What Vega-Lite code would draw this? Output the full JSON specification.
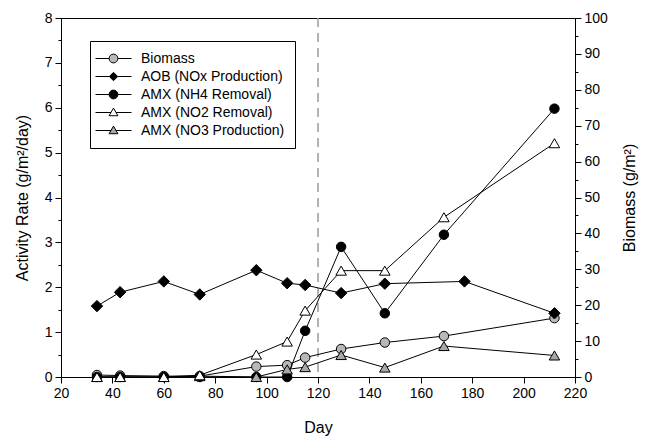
{
  "$schema": "https://vega.github.io/schema/vega-lite/v6.json",
  "width": 514,
  "height": 359,
  "autosize": {"type": "none"},
  "padding": {"left": 61, "top": 18, "right": 73, "bottom": 60},
  "background": "white",
  "config": {
    "font": "Liberation Sans",
    "view": {"stroke": "black", "strokeWidth": 1},
    "axis": {
      "grid": false,
      "domainColor": "black",
      "tickColor": "black",
      "labelColor": "black",
      "titleColor": "black",
      "labelFont": "Liberation Sans",
      "titleFont": "Liberation Sans",
      "labelFontSize": 14,
      "titleFontSize": 16,
      "titleFontWeight": "normal",
      "tickSize": 6,
      "labelPadding": 3,
      "labelFlush": false,
      "labelOverlap": false,
      "domainWidth": 1,
      "tickWidth": 1
    },
    "legend": {
      "title": null,
      "orient": "none",
      "legendX": 29,
      "legendY": 23,
      "strokeColor": "black",
      "fillColor": "white",
      "padding": 10,
      "symbolSize": 196,
      "symbolOffset": 6,
      "labelOffset": 20,
      "rowPadding": 3,
      "labelFontSize": 14,
      "labelColor": "black",
      "labelFont": "Liberation Sans",
      "symbolStrokeWidth": 1
    }
  },
  "datasets": {
    "activity": [
      {"series": "AMX (NH4 Removal)", "day": 34, "rate": 0},
      {"series": "AMX (NH4 Removal)", "day": 43, "rate": 0},
      {"series": "AMX (NH4 Removal)", "day": 60, "rate": 0},
      {"series": "AMX (NH4 Removal)", "day": 74, "rate": 0},
      {"series": "AMX (NH4 Removal)", "day": 96, "rate": 0},
      {"series": "AMX (NH4 Removal)", "day": 108, "rate": 0},
      {"series": "AMX (NH4 Removal)", "day": 115, "rate": 1.03},
      {"series": "AMX (NH4 Removal)", "day": 129, "rate": 2.9},
      {"series": "AMX (NH4 Removal)", "day": 146, "rate": 1.42},
      {"series": "AMX (NH4 Removal)", "day": 169, "rate": 3.17},
      {"series": "AMX (NH4 Removal)", "day": 212, "rate": 5.98},
      {"series": "AMX (NO3 Production)", "day": 34, "rate": 0},
      {"series": "AMX (NO3 Production)", "day": 43, "rate": 0},
      {"series": "AMX (NO3 Production)", "day": 60, "rate": 0},
      {"series": "AMX (NO3 Production)", "day": 74, "rate": 0.02},
      {"series": "AMX (NO3 Production)", "day": 96, "rate": 0},
      {"series": "AMX (NO3 Production)", "day": 108, "rate": 0.17},
      {"series": "AMX (NO3 Production)", "day": 115, "rate": 0.22},
      {"series": "AMX (NO3 Production)", "day": 129, "rate": 0.49},
      {"series": "AMX (NO3 Production)", "day": 146, "rate": 0.21},
      {"series": "AMX (NO3 Production)", "day": 169, "rate": 0.69},
      {"series": "AMX (NO3 Production)", "day": 212, "rate": 0.48},
      {"series": "AMX (NO2 Removal)", "day": 34, "rate": 0},
      {"series": "AMX (NO2 Removal)", "day": 43, "rate": 0},
      {"series": "AMX (NO2 Removal)", "day": 60, "rate": 0},
      {"series": "AMX (NO2 Removal)", "day": 74, "rate": 0.04},
      {"series": "AMX (NO2 Removal)", "day": 96, "rate": 0.5},
      {"series": "AMX (NO2 Removal)", "day": 108, "rate": 0.79},
      {"series": "AMX (NO2 Removal)", "day": 115, "rate": 1.48},
      {"series": "AMX (NO2 Removal)", "day": 129, "rate": 2.37},
      {"series": "AMX (NO2 Removal)", "day": 146, "rate": 2.37},
      {"series": "AMX (NO2 Removal)", "day": 169, "rate": 3.56},
      {"series": "AMX (NO2 Removal)", "day": 212, "rate": 5.21},
      {"series": "AOB (NOx Production)", "day": 34, "rate": 1.58},
      {"series": "AOB (NOx Production)", "day": 43, "rate": 1.89},
      {"series": "AOB (NOx Production)", "day": 60, "rate": 2.13},
      {"series": "AOB (NOx Production)", "day": 74, "rate": 1.84},
      {"series": "AOB (NOx Production)", "day": 96, "rate": 2.38},
      {"series": "AOB (NOx Production)", "day": 108, "rate": 2.09},
      {"series": "AOB (NOx Production)", "day": 115, "rate": 2.05},
      {"series": "AOB (NOx Production)", "day": 129, "rate": 1.87},
      {"series": "AOB (NOx Production)", "day": 146, "rate": 2.08},
      {"series": "AOB (NOx Production)", "day": 177, "rate": 2.13},
      {"series": "AOB (NOx Production)", "day": 212, "rate": 1.42}
    ],
    "biomass": [
      {"series": "Biomass", "day": 34, "biomass": 0.55},
      {"series": "Biomass", "day": 43, "biomass": 0.4},
      {"series": "Biomass", "day": 60, "biomass": 0.25},
      {"series": "Biomass", "day": 74, "biomass": 0.25},
      {"series": "Biomass", "day": 96, "biomass": 2.9},
      {"series": "Biomass", "day": 108, "biomass": 3.3},
      {"series": "Biomass", "day": 115, "biomass": 5.4},
      {"series": "Biomass", "day": 129, "biomass": 7.8},
      {"series": "Biomass", "day": 146, "biomass": 9.6},
      {"series": "Biomass", "day": 169, "biomass": 11.4},
      {"series": "Biomass", "day": 212, "biomass": 16.4}
    ],
    "legendItems": [
      {"series": "Biomass"},
      {"series": "AOB (NOx Production)"},
      {"series": "AMX (NH4 Removal)"},
      {"series": "AMX (NO2 Removal)"},
      {"series": "AMX (NO3 Production)"}
    ]
  },
  "encoding": {
    "x": {
      "field": "day",
      "type": "quantitative",
      "scale": {"domain": [20, 220], "nice": false, "zero": false},
      "axis": {"values": [20, 40, 60, 80, 100, 120, 140, 160, 180, 200, 220], "title": "Day", "titlePadding": 19}
    }
  },
  "layer": [
    {
      "data": {"values": [{"day": 120}]},
      "mark": {"type": "rule", "color": "#9a9a9a", "strokeDash": [9, 6], "strokeWidth": 1.5},
      "encoding": {}
    },
    {
      "data": {"name": "biomass"},
      "encoding": {
        "y": {
          "field": "biomass",
          "type": "quantitative",
          "scale": {"domain": [0, 100], "nice": false},
          "axis": {"orient": "right", "values": [0, 5, 10, 15, 20, 25, 30, 35, 40, 45, 50, 55, 60, 65, 70, 75, 80, 85, 90, 95, 100], "format": "d", "labelExpr": "datum.value % 10 === 0 ? datum.label : ''", "tickSize": {"condition": {"test": "datum.value % 10 !== 0", "value": 3}, "value": 6}, "title": "Biomass (g/m²)", "titleAngle": -90, "titlePadding": 30}
        }
      },
      "layer": [
        {"mark": {"type": "line", "color": "black", "strokeWidth": 1}},
        {
          "mark": {"type": "point", "filled": true, "fill": "#b8b8b8", "stroke": "black", "strokeWidth": 1, "size": 90, "opacity": 1, "shape": "circle"}
        }
      ]
    },
    {
      "data": {"name": "activity"},
      "encoding": {
        "y": {
          "field": "rate",
          "type": "quantitative",
          "scale": {"domain": [0, 8], "nice": false},
          "axis": {"orient": "left", "values": [0, 0.5, 1, 1.5, 2, 2.5, 3, 3.5, 4, 4.5, 5, 5.5, 6, 6.5, 7, 7.5, 8], "format": "~g", "labelExpr": "datum.value % 1 === 0 ? datum.label : ''", "tickSize": {"condition": {"test": "datum.value % 1 !== 0", "value": 3}, "value": 6}, "title": "Activity Rate (g/m²/day)", "titlePadding": 14}
        }
      },
      "layer": [
        {"mark": {"type": "line", "color": "black", "strokeWidth": 1}, "encoding": {"detail": {"field": "series"}}},
        {
          "transform": [{"filter": "datum.series === 'AMX (NH4 Removal)'"}],
          "mark": {"type": "point", "filled": true, "fill": "black", "stroke": "black", "strokeWidth": 1, "size": 90, "opacity": 1, "shape": "circle"}
        },
        {
          "transform": [{"filter": "datum.series === 'AMX (NO3 Production)'"}],
          "mark": {"type": "point", "filled": true, "fill": "#a8a8a8", "stroke": "black", "strokeWidth": 1, "size": 110, "opacity": 1, "shape": "triangle-up"}
        },
        {
          "transform": [{"filter": "datum.series === 'AMX (NO2 Removal)'"}],
          "mark": {"type": "point", "filled": true, "fill": "white", "stroke": "black", "strokeWidth": 1, "size": 110, "opacity": 1, "shape": "triangle-up"}
        },
        {
          "transform": [{"filter": "datum.series === 'AOB (NOx Production)'"}],
          "mark": {"type": "point", "filled": true, "fill": "black", "stroke": "black", "strokeWidth": 1, "size": 130, "opacity": 1, "shape": "diamond"}
        }
      ]
    },
    {
      "data": {"name": "legendItems"},
      "mark": {"type": "point", "filled": true, "strokeWidth": 1, "opacity": 1},
      "encoding": {
        "shape": {"field": "series", "type": "nominal",
          "scale": {"domain": ["Biomass", "AOB (NOx Production)", "AMX (NH4 Removal)", "AMX (NO2 Removal)", "AMX (NO3 Production)"],
            "range": [
              "M-2.57,0H-0.63M0.63,0H2.57M0.63,0A0.63,0.63,0,1,1,-0.63,0A0.63,0.63,0,1,1,0.63,0Z",
              "M-2.57,0H-0.6M0.6,0H2.57M0,-0.6L0.6,0L0,0.6L-0.6,0Z",
              "M-2.57,0H-0.63M0.63,0H2.57M0.63,0A0.63,0.63,0,1,1,-0.63,0A0.63,0.63,0,1,1,0.63,0Z",
              "M-2.57,0H-0.37M0.37,0H2.57M0,-0.63L0.63,0.46L-0.63,0.46Z",
              "M-2.57,0H-0.37M0.37,0H2.57M0,-0.63L0.63,0.46L-0.63,0.46Z"
            ]}},
        "fill": {"field": "series", "type": "nominal",
          "scale": {"domain": ["Biomass", "AOB (NOx Production)", "AMX (NH4 Removal)", "AMX (NO2 Removal)", "AMX (NO3 Production)"],
            "range": ["#b8b8b8", "black", "black", "white", "#a8a8a8"]}},
        "stroke": {"field": "series", "type": "nominal",
          "scale": {"domain": ["Biomass", "AOB (NOx Production)", "AMX (NH4 Removal)", "AMX (NO2 Removal)", "AMX (NO3 Production)"],
            "range": ["black", "black", "black", "black", "black"]}}
      }
    }
  ],
  "resolve": {"scale": {"y": "independent"}}
}
